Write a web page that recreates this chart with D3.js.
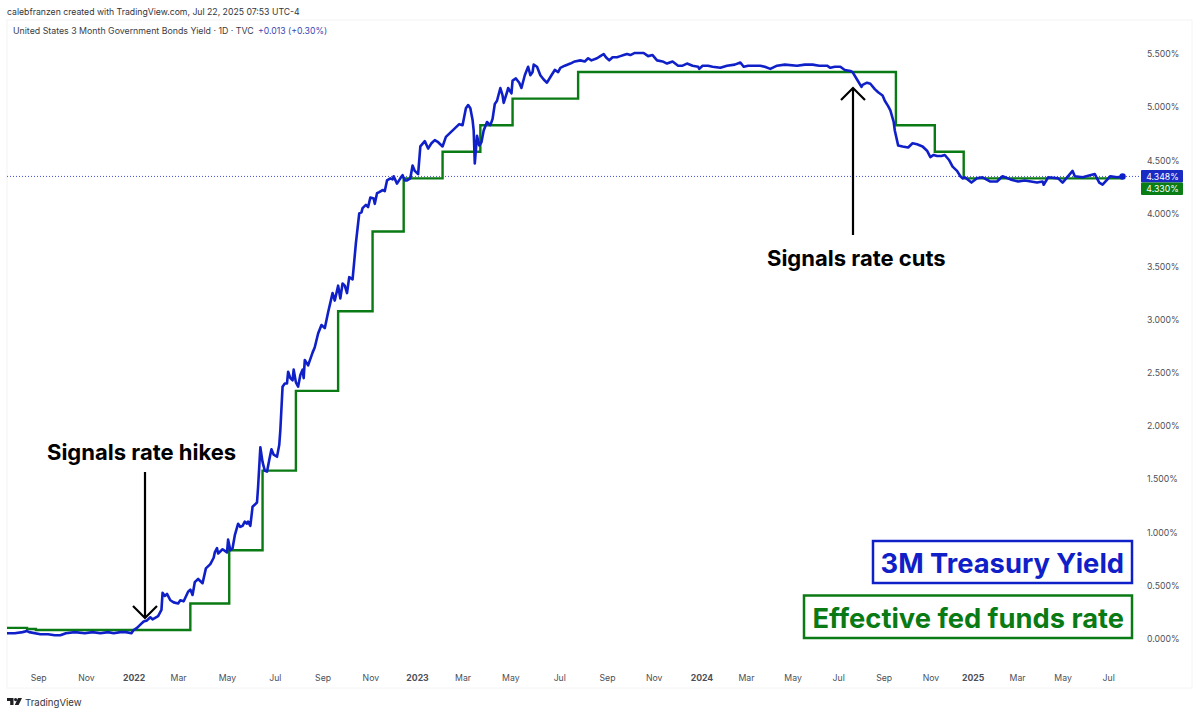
<!DOCTYPE html>
<html>
<head>
<meta charset="utf-8">
<script src="https://cdn.jsdelivr.net/npm/d3@7"></script>
<style>
html, body { margin: 0; padding: 0; background: #fff; }
svg { display: block; font-family: Inter, "Noto Sans", sans-serif; }
</style>
</head>
<body>
<script>
var w = 1200;
var h = 715;

// x is the bar number on the chart, TradingView spaces bars evenly
var tickBars = [28, 71, 114, 154, 198, 241, 284, 327, 369, 410, 453, 497, 540, 582, 625, 665, 707, 748, 789, 831, 869, 909, 950, 991];
var tickLabels = ["Sep", "Nov", "2022", "Mar", "May", "Jul", "Sep", "Nov", "2023", "Mar", "May", "Jul", "Sep", "Nov", "2024", "Mar", "May", "Jul", "Sep", "Nov", "2025", "Mar", "May", "Jul"];
var yTicks = [0, 0.5, 1, 1.5, 2, 2.5, 3, 3.5, 4, 4.5, 5, 5.5];

var fedBars = [0, 18, 26, 165, 200, 230, 260, 298, 329, 357, 392, 426, 455, 514, 800, 835, 861, 1004];
var fedValues = [0.10, 0.09, 0.08, 0.33, 0.83, 1.58, 2.33, 3.08, 3.83, 4.33, 4.58, 4.83, 5.08, 5.33, 4.83, 4.58, 4.33, 4.33];

var yieldBars = [0, 7, 14, 18, 20, 30, 37, 43, 48, 53, 61, 70, 77, 84, 91, 96, 102, 107, 112, 114, 117, 120, 123, 126, 129, 131, 136, 139, 140, 142, 144, 147, 150, 154, 156, 159, 163, 165, 167, 169, 172, 176, 179, 183, 186, 187, 189, 190, 194, 198, 199, 201, 203, 205, 208, 210, 212, 214, 216, 217, 219, 221, 225, 226, 228, 230, 232, 234, 236, 238, 240, 243, 245, 246, 248, 250, 252, 253, 255, 257, 258, 260, 262, 264, 266, 267, 268, 271, 275, 277, 280, 283, 286, 289, 293, 295, 298, 300, 302, 304, 306, 308, 311, 314, 317, 319, 320, 323, 325, 327, 330, 331, 333, 335, 338, 340, 342, 345, 347, 348, 351, 354, 356, 358, 360, 363, 365, 367, 370, 372, 376, 379, 382, 385, 388, 392, 395, 399, 403, 407, 410, 413, 415, 417, 419, 420, 421, 423, 425, 427, 429, 432, 435, 437, 439, 441, 444, 446, 447, 450, 451, 454, 455, 458, 461, 463, 466, 469, 471, 473, 474, 477, 480, 483, 486, 490, 493, 496, 498, 502, 507, 511, 516, 520, 523, 526, 531, 534, 537, 539, 542, 545, 549, 552, 555, 558, 561, 565, 570, 573, 577, 581, 585, 590, 594, 599, 604, 608, 612, 617, 622, 623, 626, 631, 635, 642, 648, 655, 660, 663, 667, 670, 678, 682, 687, 693, 700, 711, 718, 725, 731, 738, 741, 745, 750, 754, 759, 761, 765, 769, 770, 774, 777, 781, 784, 788, 790, 793, 795, 798, 799, 802, 806, 811, 815, 819, 824, 828, 831, 834, 837, 841, 844, 848, 851, 855, 858, 860, 862, 868, 873, 878, 885, 891, 896, 903, 910, 916, 927, 932, 933, 937, 946, 950, 959, 961, 968, 979, 983, 986, 993, 999, 1004];
var yieldValues = [0.05, 0.05, 0.06, 0.07, 0.06, 0.04, 0.04, 0.03, 0.03, 0.05, 0.06, 0.05, 0.06, 0.05, 0.06, 0.05, 0.06, 0.06, 0.05, 0.08, 0.10, 0.13, 0.16, 0.17, 0.20, 0.18, 0.21, 0.27, 0.43, 0.40, 0.42, 0.36, 0.34, 0.33, 0.36, 0.35, 0.44, 0.46, 0.41, 0.53, 0.56, 0.52, 0.66, 0.70, 0.76, 0.81, 0.85, 0.80, 0.84, 0.81, 0.93, 0.83, 0.85, 0.97, 1.08, 1.05, 1.06, 1.10, 1.08, 1.10, 1.06, 1.24, 1.28, 1.43, 1.80, 1.66, 1.58, 1.57, 1.68, 1.78, 1.73, 1.71, 1.82, 1.96, 2.37, 2.40, 2.40, 2.51, 2.45, 2.43, 2.53, 2.41, 2.37, 2.48, 2.53, 2.45, 2.62, 2.57, 2.69, 2.74, 2.87, 2.95, 2.92, 3.07, 3.25, 3.18, 3.32, 3.20, 3.34, 3.32, 3.25, 3.40, 3.38, 3.72, 4.00, 4.01, 4.05, 4.08, 4.06, 4.15, 4.14, 4.09, 4.19, 4.20, 4.22, 4.21, 4.31, 4.33, 4.32, 4.35, 4.28, 4.33, 4.36, 4.31, 4.31, 4.33, 4.45, 4.40, 4.37, 4.63, 4.68, 4.61, 4.66, 4.69, 4.67, 4.63, 4.72, 4.76, 4.80, 4.84, 4.83, 4.99, 5.02, 4.99, 4.88, 4.78, 4.47, 4.73, 4.64, 4.67, 4.78, 4.86, 4.83, 4.89, 5.03, 5.06, 5.18, 5.11, 5.04, 5.14, 5.18, 5.13, 5.25, 5.27, 5.23, 5.18, 5.30, 5.38, 5.30, 5.33, 5.40, 5.38, 5.30, 5.26, 5.23, 5.30, 5.35, 5.33, 5.37, 5.39, 5.41, 5.43, 5.44, 5.43, 5.46, 5.44, 5.46, 5.48, 5.50, 5.47, 5.44, 5.47, 5.47, 5.48, 5.49, 5.50, 5.49, 5.51, 5.51, 5.51, 5.48, 5.49, 5.44, 5.43, 5.41, 5.43, 5.39, 5.39, 5.41, 5.39, 5.38, 5.36, 5.39, 5.39, 5.38, 5.37, 5.39, 5.40, 5.42, 5.38, 5.39, 5.39, 5.39, 5.38, 5.36, 5.39, 5.40, 5.39, 5.40, 5.40, 5.39, 5.39, 5.37, 5.38, 5.38, 5.35, 5.34, 5.33, 5.26, 5.19, 5.21, 5.23, 5.22, 5.17, 5.14, 5.11, 5.06, 5.01, 4.97, 4.86, 4.78, 4.64, 4.63, 4.62, 4.66, 4.65, 4.63, 4.59, 4.53, 4.55, 4.54, 4.54, 4.55, 4.50, 4.44, 4.40, 4.35, 4.33, 4.34, 4.29, 4.33, 4.34, 4.30, 4.30, 4.35, 4.32, 4.30, 4.31, 4.29, 4.30, 4.27, 4.34, 4.33, 4.29, 4.40, 4.35, 4.34, 4.37, 4.29, 4.27, 4.35, 4.34, 4.348];

var blue = "#1020c8";
var green = "#0a7a14";
var textColor = "#4c4f57";

var yieldPoints = yieldBars.map(function (d, i) { return [d, yieldValues[i]]; });
var fedPoints = fedBars.map(function (d, i) { return [d, fedValues[i]]; });

var x = d3.scaleLinear().domain([0, 1005]).range([7, 1123.7]);
var y = d3.scaleLinear().domain([0, 5.5]).range([638.5, 54]);

var svg = d3.select("body")
    .append("svg")
    .attr("width", w)
    .attr("height", h);

// chart frame
svg.append("rect")
    .attr("x", 7).attr("y", 20)
    .attr("width", 1185).attr("height", 668)
    .attr("fill", "none")
    .attr("stroke", "#f4f4f5");

// axes
var xAxis = svg.append("g")
    .attr("transform", "translate(0,670)")
    .call(d3.axisBottom(x).tickValues(tickBars).tickSize(0).tickFormat(function (d, i) { return tickLabels[i]; }));
xAxis.select(".domain").remove();
xAxis.selectAll("text")
    .attr("y", 5)
    .attr("dy", "0.71em")
    .attr("fill", textColor)
    .style("font-family", "Inter, sans-serif")
    .style("font-size", "8.7px")
    .style("font-weight", function (d, i) { return tickLabels[i].length === 4 ? 700 : 400; });

var yAxis = svg.append("g")
    .attr("transform", "translate(1141,0)")
    .call(d3.axisRight(y).tickValues(yTicks).tickSize(0).tickFormat(function (d) { return d3.format(".3f")(d) + "%"; }));
yAxis.select(".domain").remove();
yAxis.selectAll("text")
    .attr("x", 6)
    .attr("fill", textColor)
    .style("font-family", "Inter, sans-serif")
    .style("font-size", "8.7px");

// last price line
svg.append("line")
    .attr("x1", 7).attr("x2", 1141)
    .attr("y1", y(4.348)).attr("y2", y(4.348))
    .attr("stroke", blue)
    .attr("stroke-width", 0.8)
    .attr("stroke-dasharray", "1 2");

// series
var fedLine = d3.line().curve(d3.curveStepAfter).x(function (d) { return x(d[0]); }).y(function (d) { return y(d[1]); });
var yieldLine = d3.line().x(function (d) { return x(d[0]); }).y(function (d) { return y(d[1]); });

svg.append("path")
    .datum(fedPoints)
    .attr("d", fedLine)
    .attr("fill", "none")
    .attr("stroke", green)
    .attr("stroke-width", 2.4);

svg.append("path")
    .datum(yieldPoints)
    .attr("d", yieldLine)
    .attr("fill", "none")
    .attr("stroke", blue)
    .attr("stroke-width", 2.6)
    .attr("stroke-linejoin", "round");

svg.append("circle")
    .attr("cx", x(1004)).attr("cy", y(4.348)).attr("r", 3.2)
    .attr("fill", blue);

// price labels
function priceLabel(top, color, label) {
    svg.append("rect")
        .attr("x", 1141).attr("y", top)
        .attr("width", 42).attr("height", 12.5)
        .attr("rx", 1)
        .attr("fill", color);
    svg.append("text")
        .attr("x", 1162.5).attr("y", top + 9.5)
        .attr("text-anchor", "middle")
        .attr("fill", "#fff")
        .style("font-size", "8.7px")
        .text(label);
}
priceLabel(170, "#1a2bc4", "4.348%");
priceLabel(182.5, "#0a7d14", "4.330%");

// header
svg.append("text")
    .attr("x", 7).attr("y", 14.5)
    .attr("fill", "#33353b")
    .style("font-size", "8.7px")
    .text("calebfranzen created with TradingView.com, Jul 22, 2025 07:53 UTC-4");

svg.append("text")
    .attr("x", 13).attr("y", 34)
    .attr("fill", "#3a3d44")
    .style("font-size", "8.8px")
    .text("United States 3 Month Government Bonds Yield · 1D · TVC");

svg.append("text")
    .attr("x", 258).attr("y", 34)
    .attr("fill", "#3a46b4")
    .style("font-size", "8.7px")
    .text("+0.013 (+0.30%)");

// annotations
function annotation(px, py, label) {
    svg.append("text")
        .attr("x", px).attr("y", py)
        .attr("fill", "#000")
        .style("font-size", "22px")
        .style("font-weight", 700)
        .text(label);
}
annotation(47, 460, "Signals rate hikes");
annotation(767, 266, "Signals rate cuts");

function arrow(px, fromY, toY) {
    var dir = toY > fromY ? -1 : 1;
    var head = d3.path();
    head.moveTo(px, fromY);
    head.lineTo(px, toY);
    head.moveTo(px - 12, toY + dir * 12);
    head.lineTo(px, toY);
    head.lineTo(px + 12, toY + dir * 12);
    svg.append("path")
        .attr("d", head.toString())
        .attr("fill", "none")
        .attr("stroke", "#000")
        .attr("stroke-width", 2.2);
}
arrow(145, 472, 618);
arrow(853, 235, 88);

// legend boxes
function legendBox(left, top, width, height, color, label) {
    svg.append("rect")
        .attr("x", left).attr("y", top)
        .attr("width", width).attr("height", height)
        .attr("fill", "#fff")
        .attr("stroke", color)
        .attr("stroke-width", 2.5);
    svg.append("text")
        .attr("x", left + width - 8).attr("y", top + 32)
        .attr("text-anchor", "end")
        .attr("fill", color)
        .style("font-size", "27.3px")
        .style("font-weight", 700)
        .text(label);
}
legendBox(873, 541, 259, 42, blue, "3M Treasury Yield");
legendBox(804, 595.5, 328, 42.5, green, "Effective fed funds rate");

// footer logo
var logo = svg.append("g").attr("transform", "translate(7,698)").attr("fill", "#1f2024");
logo.append("path").attr("d", "M0 0H6.5V7H3.2V3H0Z");
logo.append("circle").attr("cx", 8.6).attr("cy", 1.6).attr("r", 1.6);
logo.append("path").attr("d", "M11 0H15L11.6 7H7.8Z");
svg.append("text")
    .attr("x", 25).attr("y", 706)
    .attr("fill", "#33353b")
    .style("font-size", "9.6px")
    .text("TradingView");
</script>
</body>
</html>
